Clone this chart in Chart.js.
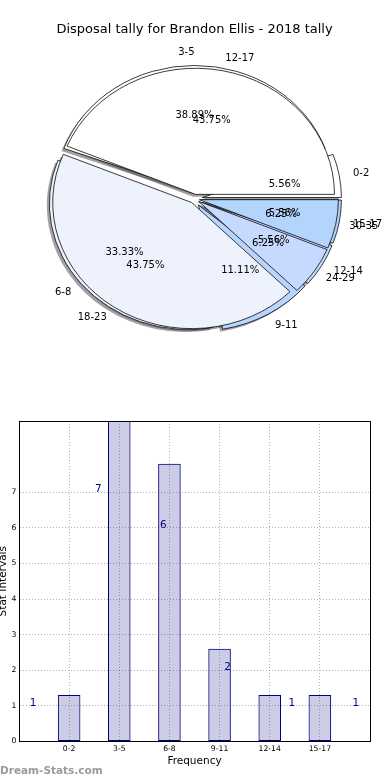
<!DOCTYPE html>
<html><head><meta charset="utf-8">
<script src="https://cdn.jsdelivr.net/npm/chart.js@4.4.1/dist/chart.umd.min.js"></script>
<style>
html,body{margin:0;padding:0;background:#fff;}
#wrap{position:relative;width:390px;height:780px;overflow:hidden;background:#fff;}
canvas{position:absolute;left:0;}
#pieA,#pieB{top:0;}
#bar{top:400px;}
</style></head><body>
<div id="wrap">
<canvas id="pieA" width="390" height="400"></canvas>
<canvas id="pieB" width="390" height="400"></canvas>
<canvas id="bar" width="390" height="380"></canvas>
</div>
<script>
// ---- data ----
const titleText = 'Disposal tally for Brandon Ellis - 2018 tally';
const categories = ['0-2', '3-5', '6-8', '9-11', '12-14', '15-17'];
const counts = [1, 7, 6, 2, 1, 1];
const barHeights = [1.3, 9.1, 7.8, 2.6, 1.3, 1.3];
const countLabelX = [-0.72, 0.58, 1.88, 3.16, 4.44, 5.72];
const yTickMax = 7;
const pie2Labels = ['12-17', '18-23', '24-29', '30-35'];
const pie2Counts = [7, 7, 1, 1];
const pie1Colors = ['#ffffff', '#ffffff', '#edf2fd', '#b8d6fd', '#c6daff', '#b3d4fd'];
const pie2Colors = ['#ffffff', '#edf2fd', '#c6daff', '#b3d4fd'];

// ---- style constants ----
Chart.defaults.font.family = 'DejaVu Sans';
const SQUASH = 0.907;
const EXPLODE1 = 8, EXPLODE2 = 5;
const SH_DX = -2.5, SH_DY = 2.5;
const TITLE_BOX = 22 + 13 * 1.2 + 10;

function center(chart) {
  const a = chart.chartArea;
  return {x: (a.left + a.right) / 2, y: (a.top + a.bottom) / 2};
}
function pct(v, arr) {
  const t = arr.reduce((s, x) => s + x, 0);
  return (100 * v / t).toFixed(2) + '%';
}
const rev = a => a.slice().reverse();

let pieChart1 = null, pieChart2 = null;

function explodePlugin(t) {
  return {
    id: 'explode',
    afterDatasetsUpdate(chart) {
      const c = center(chart);
      chart.getDatasetMeta(0).data.forEach(el => {
        const mid = (el.startAngle + el.endAngle) / 2;
        el.x = c.x + Math.cos(mid) * t;
        el.y = c.y + Math.sin(mid) * t;
      });
    }
  };
}
function applySquash(ctx, c) {
  ctx.translate(c.x, c.y); ctx.scale(1, SQUASH); ctx.translate(-c.x, -c.y);
}
function shadowPaths(ctx, chart) {
  if (!chart) return;
  chart.getDatasetMeta(0).data.forEach(el => {
    ctx.beginPath();
    ctx.moveTo(el.x, el.y);
    ctx.arc(el.x, el.y, el.outerRadius, el.startAngle, el.endAngle);
    ctx.closePath();
    ctx.fill();
  });
}
function squashPlugin(withShadows) {
  return {
    id: 'squash',
    beforeDatasetsDraw(chart) {
      const ctx = chart.ctx, c = center(chart);
      ctx.save();
      if (withShadows) {
        ctx.save();
        ctx.translate(SH_DX, SH_DY);
        applySquash(ctx, c);
        ctx.fillStyle = 'rgba(70,70,75,0.5)';
        shadowPaths(ctx, pieChart1);
        shadowPaths(ctx, pieChart2);
        ctx.restore();
      }
      applySquash(ctx, c);
    },
    afterDatasetsDraw(chart) { chart.ctx.restore(); }
  };
}
function drawPieLabels(ctx, chart, labels, values) {
  if (!chart) return;
  const c = center(chart);
  const rev_labels = rev(labels), rev_values = rev(values);
  chart.getDatasetMeta(0).data.forEach((el, i) => {
    const mid = (el.startAngle + el.endAngle) / 2;
    const R = el.outerRadius;
    const lx = el.x + Math.cos(mid) * 1.1 * R;
    const ly = c.y + (el.y + Math.sin(mid) * 1.1 * R - c.y) * SQUASH;
    ctx.textBaseline = 'middle';
    ctx.textAlign = lx > c.x + 0.5 ? 'left' : 'right';
    ctx.fillText(rev_labels[i], lx, ly);
    const px = el.x + Math.cos(mid) * 0.6 * R;
    const py = c.y + (el.y + Math.sin(mid) * 0.6 * R - c.y) * SQUASH;
    ctx.textAlign = 'center';
    ctx.fillText(pct(rev_values[i], values), px, py);
  });
}
const labelPlugin = {
  id: 'pieLabels',
  afterDraw(chart) {
    const ctx = chart.ctx;
    ctx.save();
    ctx.fillStyle = '#000';
    ctx.font = '10px "DejaVu Sans"';
    drawPieLabels(ctx, pieChart1, categories, counts);
    drawPieLabels(ctx, chart, pie2Labels, pie2Counts);
    ctx.restore();
  }
};

function pieConfig(labels, values, colors, explode, extraPlugins, withTitle) {
  return {
    type: 'pie',
    data: {
      labels: rev(labels),
      datasets: [{
        data: rev(values),
        backgroundColor: rev(colors),
        borderColor: '#000',
        borderWidth: 0.8,
        clip: false
      }]
    },
    options: {
      responsive: false,
      animation: false,
      events: [],
      rotation: 90,
      radius: 139,
      layout: {padding: {left: 0, right: 1, top: withTitle ? 0 : TITLE_BOX, bottom: 50}},
      plugins: {
        legend: {display: false},
        tooltip: {enabled: false},
        title: {
          display: withTitle,
          text: titleText,
          color: '#000',
          font: {size: 13, weight: 'normal', lineHeight: 1.2},
          padding: {top: 22, bottom: 10}
        }
      }
    },
    plugins: [explodePlugin(explode)].concat(extraPlugins)
  };
}

pieChart1 = new Chart(document.getElementById('pieA'),
  pieConfig(categories, counts, pie1Colors, EXPLODE1, [squashPlugin(true)], false));
pieChart2 = new Chart(document.getElementById('pieB'),
  pieConfig(pie2Labels, pie2Counts, pie2Colors, EXPLODE2, [squashPlugin(false), labelPlugin], true));
pieChart1.draw();
pieChart2.draw();

// ---- bar chart ----
const framePlugin = {
  id: 'frame',
  afterDatasetsDraw(chart) {
    const a = chart.chartArea, ctx = chart.ctx;
    ctx.save();
    ctx.strokeStyle = '#000';
    ctx.lineWidth = 1;
    ctx.strokeRect(Math.round(a.left) + 0.5, Math.round(a.top) + 0.5,
      Math.round(a.right - a.left), Math.round(a.bottom - a.top));
    ctx.restore();
  }
};
const countLabelPlugin = {
  id: 'countLabels',
  afterDatasetsDraw(chart) {
    const ctx = chart.ctx, xs = chart.scales.x, ys = chart.scales.y;
    ctx.save();
    ctx.fillStyle = '#000080';
    ctx.font = '10.5px "DejaVu Sans"';
    ctx.textAlign = 'center';
    ctx.textBaseline = 'alphabetic';
    counts.forEach((v, i) => {
      ctx.fillText(String(v), xs.getPixelForValue(countLabelX[i]), ys.getPixelForValue(v));
    });
    ctx.restore();
  }
};

new Chart(document.getElementById('bar'), {
  type: 'bar',
  data: {
    datasets: [{
      data: categories.map((c, i) => ({x: i, y: barHeights[i]})),
      backgroundColor: 'rgba(0,0,128,0.2)',
      borderColor: '#000080',
      borderWidth: 1,
      borderSkipped: false,
      barPercentage: 0.45,
      categoryPercentage: 1
    }]
  },
  options: {
    responsive: false,
    animation: false,
    events: [],
    layout: {padding: {top: 21, right: 20, left: 0, bottom: 0}},
    plugins: {
      legend: {display: false},
      tooltip: {enabled: false},
      title: {
        display: true, position: 'bottom', align: 'start',
        text: 'Dream-Stats.com', color: '#9a9a9a',
        font: {size: 10.5, weight: 'bold', lineHeight: 1.2},
        padding: {top: 0, bottom: 2}
      }
    },
    scales: {
      x: {
        type: 'linear', min: -1, max: 6, offset: false,
        grid: {offset: false, color: 'rgba(0,0,0,0.3)', drawTicks: false, lineWidth: 1},
        border: {color: '#000', width: 1, dash: [1, 2]},
        ticks: {
          stepSize: 1, autoSkip: false, maxRotation: 0, padding: 3, color: '#000',
          font: {size: 7.7},
          callback: v => (Number.isInteger(v) && categories[v] !== undefined) ? categories[v] : ''
        },
        title: {display: true, text: 'Frequency', color: '#000', font: {size: 10.5}, padding: {top: 0, bottom: -2}},
        afterFit(s) { s.height = 24; }
      },
      y: {
        min: 0, max: 9,
        grid: {color: 'rgba(0,0,0,0.3)', drawTicks: false, lineWidth: 1},
        border: {color: '#000', width: 1, dash: [1, 2]},
        ticks: {stepSize: 1, padding: 2.5, color: '#000', font: {size: 7.7}},
        afterBuildTicks(s) { s.ticks = s.ticks.filter(t => t.value <= yTickMax); },
        title: {display: true, text: 'Stat Intervals', color: '#000', font: {size: 10.5}, padding: {top: -3, bottom: 0}},
        afterFit(s) { s.width = 19; }
      }
    }
  },
  plugins: [framePlugin, countLabelPlugin]
});
</script>
</body></html>
